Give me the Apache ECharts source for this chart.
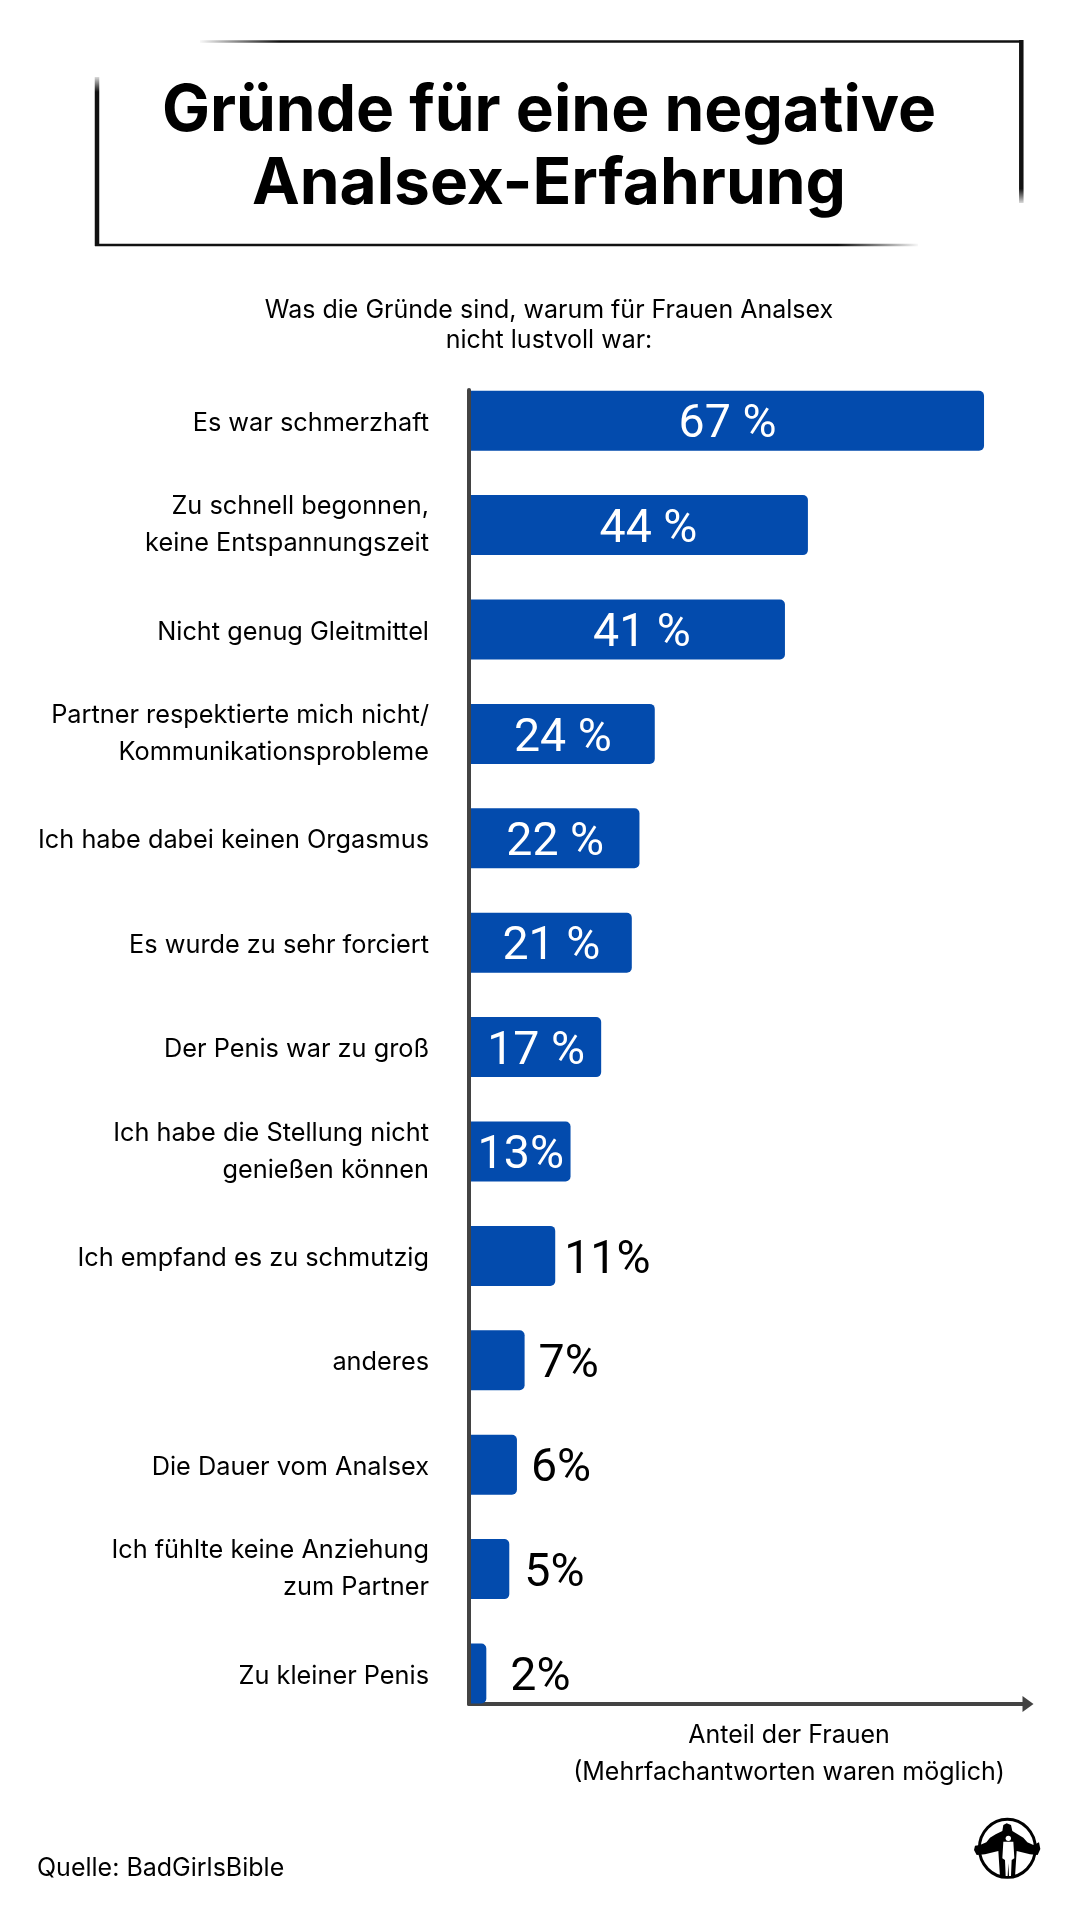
<!DOCTYPE html>
<html>
<head>
    <meta charset="utf-8">
    <title>Gründe für eine negative Analsex-Erfahrung</title>
    <script src="https://cdn.jsdelivr.net/npm/echarts@6/dist/echarts.min.js"></script>
    <style>
        html, body { margin: 0; padding: 0; background: #fff; }
        #main { width: 1080px; height: 1920px; }
    </style>
</head>
<body>
    <div id="main"></div>

    <script type="text/javascript">
    var categories = [
        'Es war schmerzhaft',
        'Zu schnell begonnen,\nkeine Entspannungszeit',
        'Nicht genug Gleitmittel',
        'Partner respektierte mich nicht/\nKommunikationsprobleme',
        'Ich habe dabei keinen Orgasmus',
        'Es wurde zu sehr forciert',
        'Der Penis war zu groß',
        'Ich habe die Stellung nicht\ngenießen können',
        'Ich empfand es zu schmutzig',
        'anderes',
        'Die Dauer vom Analsex',
        'Ich fühlte keine Anziehung\nzum Partner',
        'Zu kleiner Penis'
    ];
    var values = [67, 44, 41, 24, 22, 21, 17, 13, 11, 7, 6, 5, 2];
    var valueLabels = ['67 %', '44 %', '41 %', '24 %', '22 %', '21 %', '17 %', '13%', '11%', '7%', '6%', '5%', '2%'];

    var titleText = 'Gründe für eine negative\nAnalsex-Erfahrung';
    var subtitleText = 'Was die Gründe sind, warum für Frauen Analsex\nnicht lustvoll war:';
    var axisNote = 'Anteil der Frauen\n(Mehrfachantworten waren möglich)';
    var sourceText = 'Quelle: BadGirlsBible';

    var FONT = 'Inter';
    var BLUE = '#034bad';
    var AXIS = '#434343';

    // fading stroke for the title frame, transparent at (x, y)
    function fade(x, y, x2, y2) {
        return {
            type: 'linear', x: x, y: y, x2: x2, y2: y2,
            colorStops: [
                { offset: 0, color: 'rgba(0,0,0,0)' },
                { offset: 0.1, color: '#111' },
                { offset: 1, color: '#111' }
            ]
        };
    }

    // labels sit by hand in the original, not on a fixed rule
    var insideShift = { 1: 9, 2: 14 };
    var outsideGap = { 8: 9, 9: 14, 10: 14, 11: 15, 12: 24 };

    var barData = values.map(function (v, i) {
        var inside = i < 8;
        return {
            value: v,
            label: {
                show: true,
                formatter: valueLabels[i],
                position: inside ? 'inside' : 'right',
                distance: inside ? 0 : outsideGap[i],
                offset: [inside ? (insideShift[i] || 0) : 0, 5],
                color: inside ? '#fff' : '#000',
                fontFamily: 'Roboto',
                fontWeight: 400,
                fontSize: 46.5
            }
        };
    });

    var chart = echarts.init(document.getElementById('main'), null, { renderer: 'canvas' });

    chart.setOption({
        backgroundColor: '#fff',
        animation: false,
        title: [
            {
                text: titleText, left: 549, top: 75, padding: 0, textAlign: 'center',
                textStyle: { fontFamily: FONT, fontWeight: 700, fontSize: 64, lineHeight: 73, color: '#000' }
            },
            {
                text: subtitleText, left: 549, top: 295, padding: 0, textAlign: 'center',
                textStyle: { fontFamily: FONT, fontWeight: 400, fontSize: 25, lineHeight: 30, color: '#000' }
            },
            {
                text: axisNote, left: 789, top: 1717, padding: 0, textAlign: 'center',
                textStyle: { fontFamily: FONT, fontWeight: 400, fontSize: 25, lineHeight: 37, color: '#000' }
            },
            {
                text: sourceText, left: 37, top: 1856, padding: 0,
                textStyle: { fontFamily: FONT, fontWeight: 400, fontSize: 25, color: '#000' }
            }
        ],
        grid: [
            // bars
            { left: 471, top: 368.5, width: 536, height: 1357.2 },
            // axis frame with the arrow
            { left: 469, top: 390, width: 559, height: 1314 }
        ],
        xAxis: [
            {
                gridIndex: 0, type: 'value', min: 0, max: 70,
                axisLine: { show: false }, axisTick: { show: false },
                axisLabel: { show: false }, splitLine: { show: false }
            },
            {
                gridIndex: 1, type: 'value', min: 0, max: 1,
                axisLine: {
                    show: true, symbol: ['none', 'triangle'], symbolSize: [16, 11],
                    lineStyle: { color: AXIS, width: 4 }
                },
                axisTick: { show: false }, axisLabel: { show: false }, splitLine: { show: false }
            }
        ],
        yAxis: [
            {
                gridIndex: 0, type: 'category', inverse: true, data: categories,
                axisLine: { show: false }, axisTick: { show: false },
                splitLine: { show: false },
                axisLabel: {
                    margin: 42, align: 'right',
                    fontFamily: FONT, fontWeight: 400, fontSize: 25.3, lineHeight: 37, color: '#000',
                    // one-line labels sit a little lower than two-line ones
                    formatter: function (value) {
                        return value.indexOf('\n') < 0 ? '{one|' + value + '}' : value;
                    },
                    rich: {
                        one: {
                            padding: [5, 0, 0, 0],
                            fontFamily: FONT, fontWeight: 400, fontSize: 25.3, lineHeight: 37, color: '#000'
                        }
                    }
                }
            },
            {
                gridIndex: 1, type: 'value', min: 0, max: 1,
                axisLine: { show: true, lineStyle: { color: AXIS, width: 4 } },
                axisTick: { show: false }, axisLabel: { show: false }, splitLine: { show: false }
            }
        ],
        series: [
            {
                type: 'bar', xAxisIndex: 0, yAxisIndex: 0,
                barWidth: 60, data: barData,
                itemStyle: { color: BLUE, borderRadius: [0, 5, 5, 0] }
            }
        ],
        graphic: [
            // title frame, the far ends fade out
            { type: 'line', shape: { x1: 200, y1: 41.5, x2: 1023, y2: 41.5 }, style: { lineWidth: 2.7, stroke: fade(0, 0, 1, 0) } },
            { type: 'line', shape: { x1: 1021.3, y1: 40, x2: 1021.3, y2: 203 }, style: { lineWidth: 4.5, stroke: fade(0, 1, 0, 0) } },
            { type: 'line', shape: { x1: 97, y1: 77, x2: 97, y2: 246 }, style: { lineWidth: 4.5, stroke: fade(0, 0, 0, 1) } },
            { type: 'line', shape: { x1: 95, y1: 245, x2: 918, y2: 245 }, style: { lineWidth: 2.7, stroke: fade(1, 0, 0, 0) } },
            // logo, drawn in the coordinates of a 3x crop
            {
                type: 'group', x: 965, y: 1805, scaleX: 1 / 3, scaleY: 1 / 3,
                children: [
                    { type: 'ellipse', shape: { cx: 127, cy: 130, rx: 84, ry: 87 }, style: { fill: 'none', stroke: '#000', lineWidth: 9 } },
                    {
                        type: 'polygon',
                        shape: { points: [[125, 55], [115, 60], [112, 78], [92, 88], [75, 98], [64, 112], [45, 120], [30, 122], [27, 135], [35, 150], [60, 148], [100, 138], [105, 215], [150, 215], [155, 138], [195, 148], [218, 150], [226, 132], [222, 112], [205, 120], [187, 112], [175, 98], [158, 88], [142, 78], [138, 60]] },
                        style: { fill: '#000' }
                    },
                    { type: 'circle', shape: { cx: 130, cy: 100, r: 8 }, style: { fill: '#fff' } },
                    {
                        type: 'polygon',
                        shape: { points: [[115, 110], [145, 110], [148, 160], [140, 165], [138, 213], [132, 213], [130, 175], [128, 213], [122, 213], [120, 165], [112, 160]] },
                        style: { fill: '#fff' }
                    }
                ]
            }
        ]
    });
    </script>
</body>
</html>
